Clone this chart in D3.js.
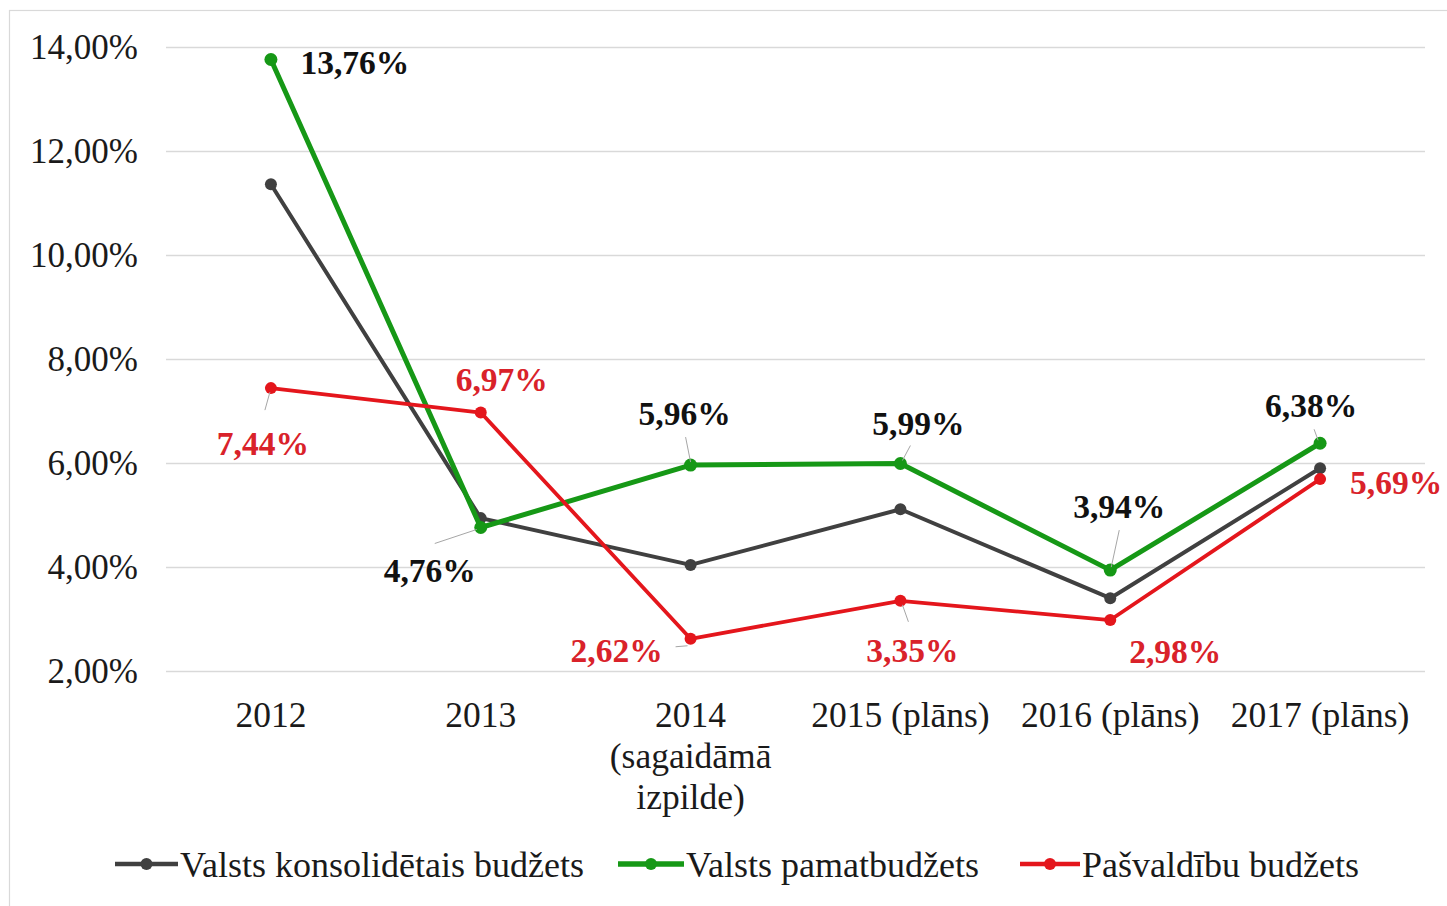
<!DOCTYPE html>
<html>
<head>
<meta charset="utf-8">
<script src="https://cdn.jsdelivr.net/npm/d3@7"></script>
<style>
  html, body { margin: 0; padding: 0; background: #fff; }
  svg { display: block; }
  text { font-family: "Liberation Serif", "Times New Roman", serif; }
</style>
</head>
<body>
<svg id="chart" width="1447" height="906"></svg>
<script>
// ---- data ----
const categories = ["2012", "2013", "2014 (sagaidāmā izpilde)", "2015 (plāns)", "2016 (plāns)", "2017 (plāns)"];
const categoryLines = [["2012"], ["2013"], ["2014", "(sagaidāmā", "izpilde)"], ["2015 (plāns)"], ["2016 (plāns)"], ["2017 (plāns)"]];
const seriesNames = ["Valsts konsolidētais budžets", "Valsts pamatbudžets", "Pašvaldību budžets"];
const konsolidetais = [11.36, 4.94, 4.04, 5.11, 3.40, 5.90];
const pamatbudzets = [13.76, 4.76, 5.96, 5.99, 3.94, 6.38];
const pasvaldibu = [7.44, 6.97, 2.62, 3.35, 2.98, 5.69];
const yTicks = [2, 4, 6, 8, 10, 12, 14];

// ---- layout / style ----
const W = 1447, H = 906;
const plot = { left: 166, right: 1425, top: 47, bottom: 671 };
const colors = { dark: "#404040", green: "#169816", red: "#e4161c", redText: "#d9222a", grid: "#d9d9d9", leader: "#a6a6a6" };

// label layout: [dx, dy] of label centre relative to point, optional leader [dx1, dy1, dx2, dy2]
const greenLabelLayout = [
  { dx: 84, dy: 3 },
  { dx: -51, dy: 43, leader: [-4, 2, -46, 16] },
  { dx: -6, dy: -52, leader: [0, -3, -5, -28] },
  { dx: 18, dy: -40, leader: [2, -3, 10, -18] },
  { dx: 9, dy: -64, leader: [1, -3, 9, -40] },
  { dx: -9, dy: -38, leader: [-2, -3, -6, -14] }
];
const redLabelLayout = [
  { dx: -8, dy: 55, leader: [-1, 4, -6, 22] },
  { dx: 21, dy: -33 },
  { dx: -74, dy: 12, leader: [-3, 7, -15, 8] },
  { dx: 12, dy: 49, leader: [2, 4, 8, 21] },
  { dx: 65, dy: 31 },
  { dx: 76, dy: 3 }
];

const fmtLocale = d3.formatLocale({ decimal: ",", thousands: " ", grouping: [3], currency: ["", "€"] });
const fmt2 = fmtLocale.format(".2f");
const pct = v => fmt2(v) + "%";

const svg = d3.select("#chart");

// outer frame
svg.append("rect").attr("x", 9.5).attr("y", 10.5).attr("width", 1440).attr("height", 900)
  .attr("fill", "#fff").attr("stroke", "#d9d9d9").attr("stroke-width", 1.2);

const x = d3.scaleBand().domain(categories).range([plot.left, plot.right]).padding(0);
const cx = c => x(c) + x.bandwidth() / 2;
const y = d3.scaleLinear().domain([2, 14]).range([plot.bottom, plot.top]);

// gridlines
const grid = svg.append("g").attr("transform", `translate(${plot.left},0)`)
  .call(d3.axisLeft(y).tickValues(yTicks).tickSize(-(plot.right - plot.left)).tickFormat(""));
grid.select(".domain").remove();
grid.selectAll("line").attr("stroke", colors.grid).attr("stroke-width", 1.3);

// y tick labels
const yAx = svg.append("g").attr("transform", `translate(138,0)`)
  .call(d3.axisLeft(y).tickValues(yTicks).tickSize(0).tickPadding(0).tickFormat(pct));
yAx.select(".domain").remove();
yAx.selectAll("text").attr("font-size", 35).attr("fill", "#1a1a1a")
  .attr("font-family", "'Liberation Serif', 'Times New Roman', serif");

// x labels
const xAx = svg.append("g").attr("transform", `translate(0,${plot.bottom})`)
  .call(d3.axisBottom(x).tickSize(0).tickFormat(""));
xAx.select(".domain").remove();
xAx.selectAll(".tick").each(function (d, i) {
  const t = d3.select(this).append("text")
    .attr("fill", "#1a1a1a").attr("font-size", 35.5).attr("text-anchor", "middle")
    .attr("font-family", "'Liberation Serif', 'Times New Roman', serif")
    .attr("y", 56);
  categoryLines[i].forEach((ln, j) => {
    t.append("tspan").attr("x", 0).attr("dy", j === 0 ? 0 : 41).text(ln);
  });
});

// series
const series = [
  { name: seriesNames[0], values: konsolidetais, color: colors.dark, width: 4, r: 6 },
  { name: seriesNames[1], values: pamatbudzets, color: colors.green, width: 5, r: 6.5 },
  { name: seriesNames[2], values: pasvaldibu, color: colors.red, width: 3.8, r: 6 }
];
const line = d3.line().x((d, i) => cx(categories[i])).y(d => y(d));

series.forEach(s => {
  const g = svg.append("g");
  g.append("path").datum(s.values).attr("d", line).attr("fill", "none")
    .attr("stroke", s.color).attr("stroke-width", s.width).attr("stroke-linejoin", "round");
  g.selectAll("circle").data(s.values).join("circle")
    .attr("cx", (d, i) => cx(categories[i])).attr("cy", d => y(d)).attr("r", s.r).attr("fill", s.color);
});

// labels
function drawLabels(values, layout, color) {
  const g = svg.append("g");
  values.forEach((v, i) => {
    const px = cx(categories[i]), py = y(v), L = layout[i];
    if (L.leader) {
      g.append("line").attr("x1", px + L.leader[0]).attr("y1", py + L.leader[1])
        .attr("x2", px + L.leader[2]).attr("y2", py + L.leader[3])
        .attr("stroke", colors.leader).attr("stroke-width", 1);
    }
    g.append("text").attr("x", px + L.dx).attr("y", py + L.dy).attr("dy", "0.35em")
      .attr("text-anchor", "middle").attr("font-size", 33.5).attr("font-weight", "bold")
      .attr("fill", color).text(pct(v));
  });
}
drawLabels(pamatbudzets, greenLabelLayout, "#111");
drawLabels(pasvaldibu, redLabelLayout, colors.redText);

// legend
const legendItems = [
  { s: series[0], x1: 115, x2: 178, tx: 180 },
  { s: series[1], x1: 618, x2: 684, tx: 686 },
  { s: series[2], x1: 1020, x2: 1080, tx: 1082 }
];
const ly = 864;
const lg = svg.append("g");
legendItems.forEach(it => {
  lg.append("line").attr("x1", it.x1).attr("x2", it.x2).attr("y1", ly).attr("y2", ly)
    .attr("stroke", it.s.color).attr("stroke-width", it.s.width + 0.5);
  lg.append("circle").attr("cx", (it.x1 + it.x2) / 2).attr("cy", ly).attr("r", 6).attr("fill", it.s.color);
  lg.append("text").attr("x", it.tx).attr("y", ly).attr("dy", "0.35em").attr("font-size", 36)
    .attr("fill", "#1a1a1a").text(it.s.name);
});
</script>
</body>
</html>
